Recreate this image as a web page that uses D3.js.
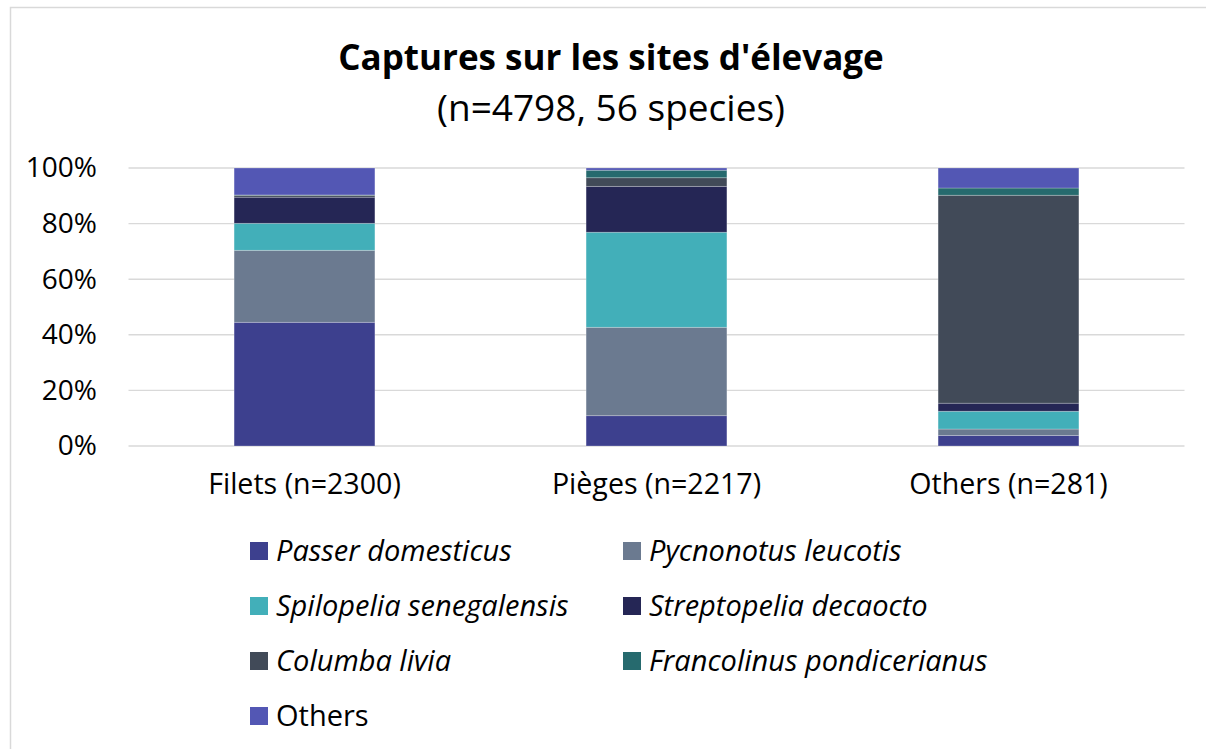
<!DOCTYPE html>
<html>
<head>
<meta charset="utf-8">
<script src="https://cdn.jsdelivr.net/npm/d3@7"></script>
<style>
  body { margin: 0; background: #fff; }
  text { font-family: "Open Sans", "Liberation Sans", sans-serif; fill: #000; }
</style>
</head>
<body>
<div id="chart"></div>
<script>
// categories and series, percent of captures
var categories = ["Filets (n=2300)", "Pièges (n=2217)", "Others (n=281)"];
var species = ["Passer domesticus", "Pycnonotus leucotis", "Spilopelia senegalensis",
               "Streptopelia decaocto", "Columba livia", "Francolinus pondicerianus", "Others"];
var passer       = [44.5, 10.9, 3.8];
var pycnonotus   = [25.9, 31.8, 2.3];
var spilopelia   = [9.7, 34.2, 6.4];
var streptopelia = [9.4, 16.5, 2.9];
var columba      = [0.7, 3.1, 74.8];
var francolinus  = [0.1, 2.7, 2.6];
var others       = [9.7, 0.8, 7.2];
var yTicks = [0, 0.2, 0.4, 0.6, 0.8, 1];

var colors = ["#3d408e", "#6b7a90", "#42afb9", "#252655", "#414a58", "#266a6e", "#5357b4"];
var italic = [true, true, true, true, true, true, false];

var series = [passer, pycnonotus, spilopelia, streptopelia, columba, francolinus, others];
var rows = categories.map(function(c, i) {
    var r = {cat: c};
    species.forEach(function(s, j) { r[s] = series[j][i]; });
    return r;
});

var width = 1206, height = 749;

var svg = d3.select("#chart").append("svg")
    .attr("width", width)
    .attr("height", height);

svg.append("rect")
    .attr("width", width).attr("height", height)
    .attr("fill", "#fff");

// chart border (runs off right and bottom)
svg.append("rect")
    .attr("x", 10.5).attr("y", 7.5)
    .attr("width", 1220).attr("height", 760)
    .attr("fill", "none")
    .attr("stroke", "#d9d9d9")
    .attr("stroke-width", 1.5);

//
// Scales
//
var x = d3.scaleBand()
    .domain(categories)
    .range([128.5, 1184.5])
    .paddingInner(0.6)
    .paddingOuter(0.3);

var y = d3.scaleLinear()
    .domain([0, 1])
    .range([446, 168]);

// gridlines
svg.append("g")
    .selectAll("line")
    .data(yTicks)
    .enter().append("line")
    .attr("x1", 128.5).attr("x2", 1184.5)
    .attr("y1", function(d) { return y(d); })
    .attr("y2", function(d) { return y(d); })
    .attr("stroke", "#d9d9d9")
    .attr("stroke-width", 1.4);

// y axis labels
var yAxis = svg.append("g")
    .attr("transform", "translate(128,0)")
    .call(d3.axisLeft(y).tickValues(yTicks).tickSize(0).tickPadding(31)
          .tickFormat(d3.format(".0%")));
yAxis.select(".domain").remove();
yAxis.selectAll("text")
    .style("font-family", "'Open Sans', sans-serif")
    .style("font-size", "28px")
    .attr("fill", "#000");

// bars
var stacked = d3.stack().keys(species).offset(d3.stackOffsetExpand)(rows);

svg.append("g")
    .selectAll("g")
    .data(stacked)
    .enter().append("g")
    .attr("fill", function(d, i) { return colors[i]; })
    .selectAll("rect")
    .data(function(d) { return d; })
    .enter().append("rect")
    .attr("x", function(d) { return x(d.data.cat); })
    .attr("width", x.bandwidth())
    .attr("y", function(d) { return y(d[1]); })
    .attr("height", function(d) { return y(d[0]) - y(d[1]); })
    .attr("stroke", "rgba(255,255,255,0.3)")
    .attr("stroke-width", 0.8);

// x axis labels
var xAxis = svg.append("g")
    .attr("transform", "translate(0,446)")
    .call(d3.axisBottom(x).tickSize(0).tickPadding(28));
xAxis.select(".domain").remove();
xAxis.selectAll("text")
    .style("font-family", "'Open Sans', sans-serif")
    .style("font-size", "28.6px")
    .attr("fill", "#000");

// title
svg.append("text")
    .attr("x", 611).attr("y", 70)
    .attr("text-anchor", "middle")
    .style("font-size", "35px")
    .style("font-weight", "bold")
    .text("Captures sur les sites d'élevage");
svg.append("text")
    .attr("x", 611).attr("y", 121)
    .attr("text-anchor", "middle")
    .style("font-size", "37px")
    .text("(n=4798, 56 species)");

// legend
var legend = svg.append("g")
    .selectAll("g")
    .data(species)
    .enter().append("g")
    .attr("transform", function(d, i) {
        return "translate(" + (i % 2 === 0 ? 250 : 623) + "," + (551 + Math.floor(i / 2) * 55) + ")";
    });
legend.append("rect")
    .attr("x", 0).attr("y", -9)
    .attr("width", 18).attr("height", 18)
    .attr("fill", function(d, i) { return colors[i]; });
legend.append("text")
    .attr("x", 26).attr("y", 0)
    .attr("dy", "0.36em")
    .style("font-size", "29px")
    .style("font-style", function(d, i) { return italic[i] ? "italic" : "normal"; })
    .text(function(d) { return d; });
</script>
</body>
</html>
